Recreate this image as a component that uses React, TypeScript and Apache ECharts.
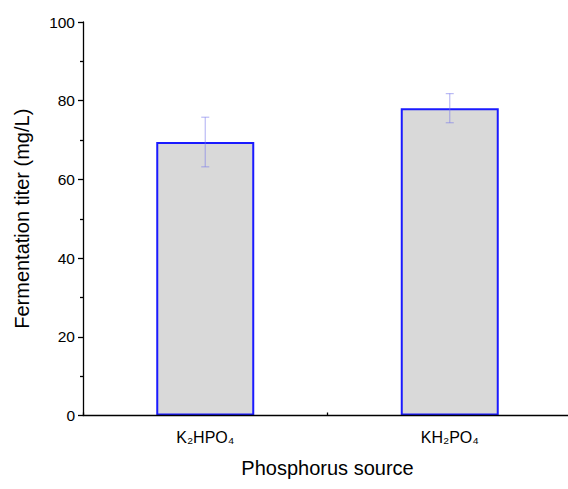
import React, { useEffect, useRef } from "react";
import * as echarts from "echarts";

const categories = ["K₂HPO₄", "KH₂PO₄"];
const titerMeans = [69.5, 78.1];
const titerErrors = [6.3, 3.7];
const yTicks = { min: 0, max: 100, interval: 20 };

export default function App() {
  const ref = useRef<HTMLDivElement>(null);
  useEffect(() => {
    if (!ref.current) return;
    const chart = echarts.init(ref.current, null, { renderer: "svg" });
    const font = "'Liberation Sans', Arial, sans-serif";
    const errData = categories.map((c, i) => [i, titerMeans[i] - titerErrors[i], titerMeans[i] + titerErrors[i]]);
    chart.setOption({
      animation: false,
      backgroundColor: "#ffffff",
      grid: { left: 83, top: 22, right: -4, bottom: 73.5, outerBoundsMode: "none", containLabel: false },
      xAxis: [
        {
          type: "category",
          data: categories,
          z: 5,
          name: "Phosphorus source",
          nameLocation: "middle",
          nameGap: 42,
          nameTextStyle: { fontFamily: font, fontSize: 20, color: "#000" },
          axisLine: { lineStyle: { color: "#000", width: 1.4 } },
          axisTick: { alignWithLabel: true, inside: true, length: 5, lineStyle: { color: "#000", width: 1.3 } },
          axisLabel: { fontFamily: font, fontSize: 16, color: "#000", margin: 14 },
          splitLine: { show: false },
        },
        {
          type: "value",
          min: 0,
          max: 2,
          interval: 1,
          position: "bottom",
          z: 5,
          axisLine: { show: false },
          axisTick: { show: true, inside: true, length: 3, lineStyle: { color: "#000", width: 1.3 } },
          axisLabel: { show: false },
          splitLine: { show: false },
        },
      ],
      yAxis: {
        type: "value",
        min: yTicks.min,
        max: yTicks.max,
        interval: yTicks.interval,
        name: "Fermentation titer (mg/L)",
        nameLocation: "middle",
        nameGap: 51,
        nameTextStyle: { fontFamily: font, fontSize: 20, color: "#000" },
        axisLine: { show: true, lineStyle: { color: "#000", width: 1.3 } },
        axisTick: { show: true, inside: false, length: 5, lineStyle: { color: "#000", width: 1.3 } },
        minorTick: { show: true, splitNumber: 2, length: 3, lineStyle: { color: "#000", width: 1.3 } },
        axisLabel: { fontFamily: font, fontSize: 15.5, color: "#000", margin: 8 },
        splitLine: { show: false },
      },
      series: [
        {
          type: "bar",
          data: titerMeans,
          barWidth: 98,
          itemStyle: { color: "#d9d9d9", borderColor: "#1a1aff", borderWidth: 2 },
        },
        {
          type: "custom",
          data: errData,
          z: 10,
          renderItem: (params: any, api: any) => {
            const x = api.value(0);
            const lo = api.coord([x, api.value(1)]);
            const hi = api.coord([x, api.value(2)]);
            const hw = 4;
            const style = { stroke: "rgba(120,120,235,0.5)", lineWidth: 1.2 };
            return {
              type: "group",
              children: [
                { type: "line", shape: { x1: lo[0], y1: lo[1], x2: hi[0], y2: hi[1] }, style },
                { type: "line", shape: { x1: lo[0] - hw, y1: lo[1], x2: lo[0] + hw, y2: lo[1] }, style },
                { type: "line", shape: { x1: hi[0] - hw, y1: hi[1], x2: hi[0] + hw, y2: hi[1] }, style },
              ],
            };
          },
        },
      ],
    });
    return () => chart.dispose();
  }, []);
  return <div ref={ref} style={{ position: "fixed", left: 0, top: 0, width: 568, height: 489 }} />;
}
